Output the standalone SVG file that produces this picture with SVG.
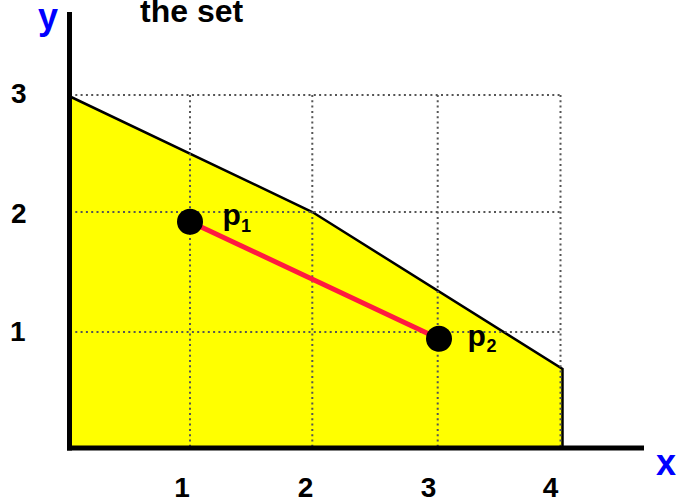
<svg xmlns="http://www.w3.org/2000/svg" width="677" height="502" viewBox="0 0 677 502">
<style>
.grid{stroke:#555;stroke-width:2;stroke-dasharray:2 3.3;fill:none}
.num{font-family:"Liberation Sans",Arial,sans-serif;font-weight:bold;font-size:28px;fill:#000}
.ax{font-family:"Liberation Sans",Arial,sans-serif;font-weight:bold;font-size:36px;fill:#0000ff}
.lbl{font-family:"Liberation Sans",Arial,sans-serif;font-weight:bold;fill:#000}
</style>
<rect width="677" height="502" fill="#fff"/>
<g id="region">
<polygon points="70,96.5 312.3,212 562.5,369 562.5,448 70,448" fill="#ffff00"/>
<polyline points="70,96.5 312.3,212 562.5,369 562.5,448" fill="none" stroke="#000" stroke-width="2.5"/>
</g>
<g id="grid">
<line class="grid" x1="70" y1="95" x2="561" y2="95"/>
<line class="grid" x1="70" y1="212" x2="561" y2="212"/>
<line class="grid" x1="70" y1="332" x2="561" y2="332"/>
<line class="grid" x1="190" y1="95" x2="190" y2="446"/>
<line class="grid" x1="312.3" y1="95" x2="312.3" y2="446"/>
<line class="grid" x1="437.7" y1="95" x2="437.7" y2="446"/>
<line class="grid" x1="560.5" y1="95" x2="560.5" y2="446"/>
</g>
<g id="axes">
<line x1="69.5" y1="12" x2="69.5" y2="450.5" stroke="#000" stroke-width="5"/>
<line x1="67" y1="448" x2="644" y2="448" stroke="#000" stroke-width="5"/>
<text class="ax" x="38" y="29">y</text>
<text class="ax" x="656" y="475">x</text>
<text class="lbl" x="140" y="21.5" font-size="32">the set</text>
</g>
<g id="ticks">
<text class="num" x="11" y="103">3</text>
<text class="num" x="11" y="223">2</text>
<text class="num" x="10" y="341">1</text>
<text class="num" x="182" y="497" text-anchor="middle">1</text>
<text class="num" x="305.5" y="497" text-anchor="middle">2</text>
<text class="num" x="428.5" y="497" text-anchor="middle">3</text>
<text class="num" x="550.5" y="497" text-anchor="middle">4</text>
</g>
<g id="connectors">
<line x1="190" y1="221.7" x2="439" y2="338.7" stroke="#ff1a40" stroke-width="5"/>
</g>
<g id="p1">
<circle cx="190" cy="221.7" r="13" fill="#000"/>
<text class="lbl" x="222.5" y="225" font-size="30">p</text>
<text class="lbl" x="241" y="232" font-size="18">1</text>
</g>
<g id="p2">
<circle cx="439" cy="338.7" r="13" fill="#000"/>
<text class="lbl" x="467.5" y="346" font-size="30">p</text>
<text class="lbl" x="486.5" y="352" font-size="18">2</text>
</g>
</svg>
